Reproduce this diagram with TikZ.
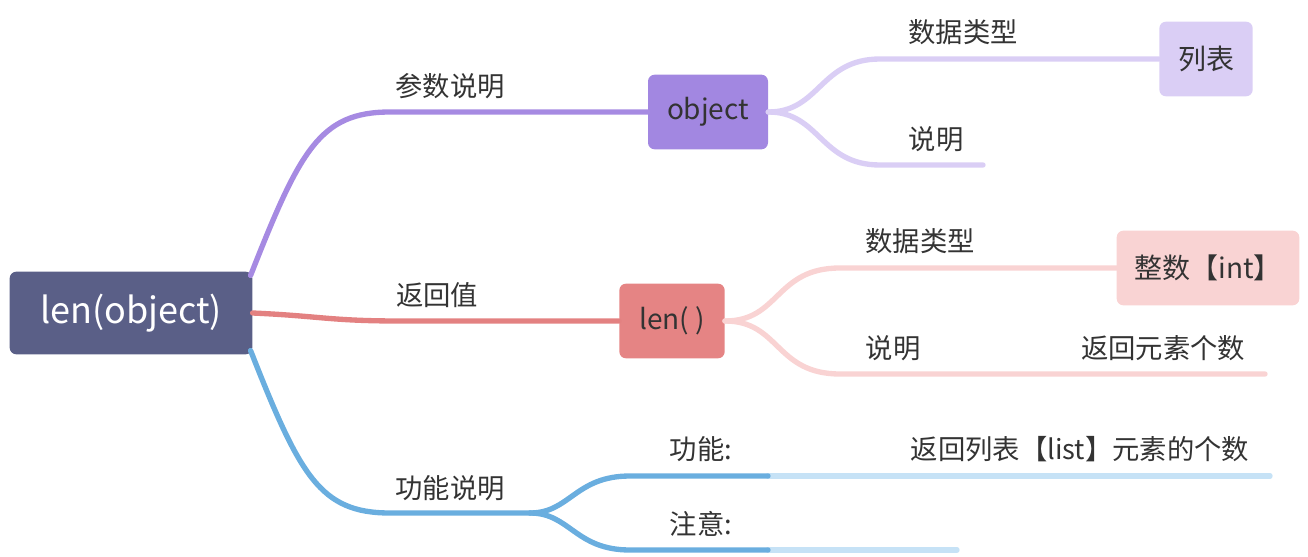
\documentclass[tikz,border=0pt]{standalone}
\usepackage{fontspec}
\setmainfont{Noto Sans CJK SC}
\usetikzlibrary{positioning}

\definecolor{rootblue}{HTML}{5A5F87}
\definecolor{purpleline}{HTML}{A68AE2}
\definecolor{purplefill}{HTML}{A287E1}
\definecolor{lilacline}{HTML}{DACEF5}
\definecolor{redline}{HTML}{E38181}
\definecolor{redfill}{HTML}{E58484}
\definecolor{pinkline}{HTML}{F9D3D3}
\definecolor{blueline}{HTML}{6AAEDF}
\definecolor{lightblue}{HTML}{C6E2F6}
\definecolor{textdark}{HTML}{333333}

\tikzset{
  topic/.style   = {rounded corners=5pt, minimum height=56pt, inner sep=0pt, text=textdark,
                    font=\fontsize{21}{25}\selectfont},
  leaf/.style    = {text=textdark, font=\fontsize{20.5}{24}\selectfont},
  branch/.style  = {line width=4pt, line cap=round},
}

\begin{document}
\begin{tikzpicture}[x=0.75pt, y=-0.75pt]
  \useasboundingbox (0,0) rectangle (1308,556);

  % main topics
  \node[topic, fill=rootblue, text=white, minimum width=182pt, minimum height=62pt,
        font=\fontsize{27}{32}\selectfont] (root) at (131,313) {len(object)};
  \node[topic, fill=purplefill, minimum width=90pt] (obj) at (708,112) {object};
  \node[topic, fill=redfill, minimum width=79pt] (lenf) at (672,321) {len( )};
  \node[topic, fill=lilacline, minimum width=70pt] (list) at (1206,59) {列表};
  \node[topic, fill=pinkline, minimum width=137pt] (int) at (1208,268) {整数【int】};

  % free ends
  \coordinate (fork) at (530,513);
  \coordinate (objnote) at (983,165);
  \coordinate (lennote) at (1265,374);
  \coordinate (funcmid) at (768,476);
  \coordinate (funcend) at (1270,476);
  \coordinate (notemid) at (768,550);
  \coordinate (noteend) at (957,550);

  % first level
  \draw[branch, purpleline] (root.north east) ++(-2,4) .. controls (300,150) and (320,112) .. (390,112) -- (obj.west);
  \draw[branch, redline] (root.east) .. controls (320,316) and (330,321) .. (400,321) -- (lenf.west);
  \draw[branch, blueline] (root.south east) ++(-2,-4) .. controls (300,476) and (320,513) .. (390,513) -- (fork);

  % second level
  \draw[branch, lilacline] (obj.east) .. controls (820,112) and (820,59) .. (880,59) -- (list.west);
  \draw[branch, lilacline] (obj.east) .. controls (820,112) and (820,165) .. (880,165) -- (objnote);
  \draw[branch, pinkline] (lenf.east) .. controls (780,321) and (775,268) .. (840,268) -- (int.west);
  \draw[branch, pinkline] (lenf.east) .. controls (780,321) and (775,374) .. (840,374) -- (lennote);
  \draw[branch, lightblue] (funcmid) -- (funcend);
  \draw[branch, lightblue] (notemid) -- (noteend);
  \draw[branch, blueline] (fork) .. controls (570,513) and (575,476) .. (630,476) -- (funcmid);
  \draw[branch, blueline] (fork) .. controls (570,513) and (575,550) .. (630,550) -- (notemid);

  % labels
  \node[leaf] (lbl1) at (450,86) {参数说明};
  \node[leaf] (lbl2) at (437,295) {返回值};
  \node[leaf] (lbl3) at (450,488) {功能说明};
  \node[leaf] (type1) at (963,32) {数据类型};
  \node[leaf] (desc1) at (936,139) {说明};
  \node[leaf] (type2) at (920,241) {数据类型};
  \node[leaf] (desc2) at (893,348) {说明};
  \node[leaf] (desc2v) at (1163,348) {返回元素个数};
  \node[leaf] (func) at (701,449) {功能:};
  \node[leaf] (funcv) at (1080,449) {返回列表【list】元素的个数};
  \node[leaf] (note) at (701,524) {注意:};
\end{tikzpicture}
\end{document}
